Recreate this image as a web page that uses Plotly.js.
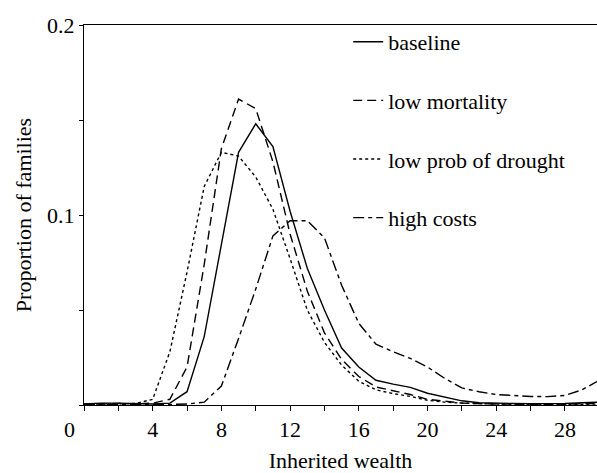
<!DOCTYPE html>
<html>
<head>
<meta charset="utf-8">
<script src="https://cdn.plot.ly/plotly-3.0.1.min.js"></script>
<style>
html,body{margin:0;padding:0;background:#fff;}
#chart{width:597px;height:473px;}
#chart text{font-family:"Liberation Serif", serif !important;}
</style>
</head>
<body>
<div id="chart"></div>
<script>
// Inherited wealth (x) values
const wealth = [0,1,2,3,4,5,6,7,8,9,10,11,12,13,14,15,16,17,18,19,20,21,22,23,24,25,26,27,28,29,30];

const seriesNames = ["baseline", "low mortality", "low prob of drought", "high costs"];

const baseline = [0.0005,0.001,0.001,0.0008,0.0005,0.001,0.007,0.036,0.084,0.133,0.148,0.136,0.102,0.072,0.050,0.030,0.020,0.013,0.011,0.0093,0.0062,0.004,0.0022,0.0012,0.0009,0.0008,0.0007,0.0006,0.0008,0.0012,0.0015];
const lowMortality = [0.0003,0.0006,0.0008,0.0006,0.001,0.003,0.020,0.074,0.135,0.161,0.156,0.128,0.090,0.060,0.038,0.024,0.015,0.0095,0.0075,0.0055,0.003,0.002,0.001,0.0007,0.0005,0.0004,0.0003,0.0003,0.0004,0.0006,0.0008];
const lowDrought = [0.0004,0.0006,0.0006,0.0008,0.003,0.028,0.070,0.115,0.133,0.131,0.120,0.103,0.077,0.050,0.033,0.021,0.0125,0.008,0.006,0.0045,0.0025,0.0015,0.001,0.0006,0.0005,0.0004,0.0003,0.0003,0.0003,0.0004,0.0005];
const highCosts = [0.0002,0.0003,0.0003,0.0003,0.0003,0.0003,0.0005,0.0015,0.010,0.035,0.061,0.089,0.097,0.097,0.088,0.063,0.043,0.032,0.028,0.0245,0.020,0.014,0.009,0.007,0.0055,0.005,0.0045,0.0044,0.005,0.008,0.013];

const xTickVals = [0,2,4,6,8,10,12,14,16,18,20,22,24,26,28];
const xTickText = ["","","4","","8","","12","","16","","20","","24","","28"];
const yTickVals = [0,0.05,0.1,0.15,0.2];
const yTickText = ["","","0.1","","0.2"];

const dashes = ["solid", "9px,5px", "3px,3px", "11px,4px,4px,4px"];
const ys = [baseline, lowMortality, lowDrought, highCosts];

const traces = ys.map((y, i) => ({
  x: wealth, y: y, type: "scatter", mode: "lines", name: seriesNames[i],
  legendgroup: "g" + i,
  line: {color: "#000", width: 1.4, dash: dashes[i]}
}));

const layout = {
  width: 597, height: 473,
  margin: {l: 84, r: 0, t: 25, b: 68},
  paper_bgcolor: "#fff", plot_bgcolor: "#fff",
  font: {family: "Liberation Serif", size: 22, color: "#000"},
  showlegend: true,
  legend: {x: 0.515, y: 1.0105, xanchor: "left", yanchor: "top", bgcolor: "rgba(0,0,0,0)",
           font: {family: "Liberation Serif", size: 22, color: "#000"}, tracegroupgap: 27},
  xaxis: {
    range: [0, 29.87], showgrid: false, zeroline: false,
    showline: true, linecolor: "#000", linewidth: 1, mirror: true,
    ticks: "outside", ticklen: 5, tickcolor: "#000",
    tickmode: "array", tickvals: xTickVals, ticktext: xTickText,
    tickfont: {family: "Liberation Serif", size: 22, color: "#000"},
    title: {text: "Inherited wealth", font: {family: "Liberation Serif", size: 22, color: "#000"}, standoff: 14}
  },
  yaxis: {
    range: [0, 0.2], showgrid: false, zeroline: false,
    showline: true, linecolor: "#000", linewidth: 1,
    ticks: "outside", ticklen: 4, tickcolor: "#000",
    tickmode: "array", tickvals: yTickVals, ticktext: yTickText,
    tickfont: {family: "Liberation Serif", size: 22, color: "#000"},
    title: {text: "Proportion of families", font: {family: "Liberation Serif", size: 22, color: "#000"}, standoff: 9}
  },
  annotations: [{
    text: "0", xref: "paper", yref: "paper", x: 0, y: 0, xanchor: "center", yanchor: "top",
    xshift: -15, yshift: -10, showarrow: false, font: {family: "Liberation Serif", size: 22, color: "#000"}
  }]
};

Plotly.newPlot("chart", traces, layout, {displayModeBar: false});
</script>
</body>
</html>
